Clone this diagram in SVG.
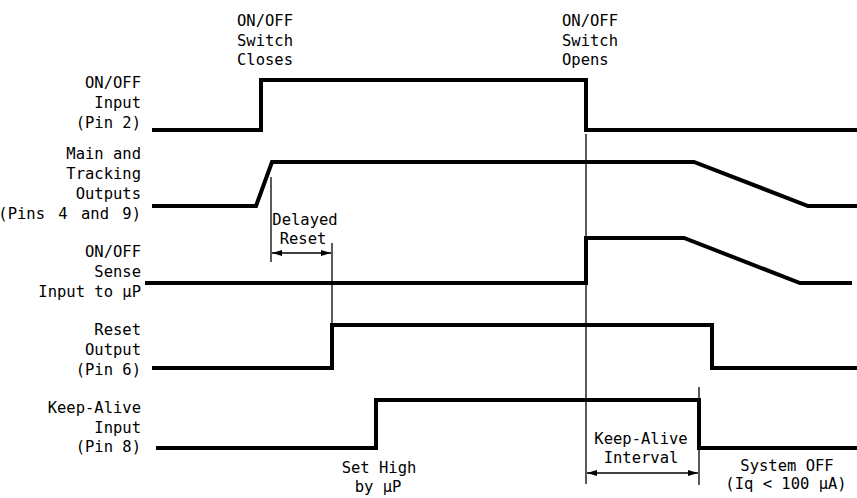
<svg xmlns="http://www.w3.org/2000/svg" width="857" height="498" viewBox="0 0 857 498">
<style>
text{font-family:"DejaVu Sans Mono","Liberation Mono",monospace;font-size:15.5px;fill:#000}
.r{text-anchor:end}
.m{text-anchor:middle}
.sig{fill:none;stroke:#000;stroke-width:4;stroke-linejoin:miter}
.thin{fill:none;stroke:#000;stroke-width:1.3}
</style>
<defs>
<marker id="ah" viewBox="0 0 10 6" refX="10" refY="3" markerWidth="10" markerHeight="6" markerUnits="userSpaceOnUse" orient="auto-start-reverse">
<path d="M0,0 L10,3 L0,6 Z" fill="#000"/>
</marker>
</defs>
<g id="label-onoff-input">
<text class="r" x="141" y="88">ON/OFF</text>
<text class="r" x="141" y="108">Input</text>
<text class="r" x="141" y="128">(Pin 2)</text>
</g>
<g id="label-main-tracking">
<text class="r" x="141" y="159">Main and</text>
<text class="r" x="141" y="179">Tracking</text>
<text class="r" x="141" y="199">Outputs</text>
<text class="r" x="141" y="219" word-spacing="4">(Pins 4 and 9)</text>
</g>
<g id="label-sense">
<text class="r" x="141" y="257">ON/OFF</text>
<text class="r" x="141" y="277">Sense</text>
<text class="r" x="141" y="297">Input to μP</text>
</g>
<g id="label-reset">
<text class="r" x="141" y="335">Reset</text>
<text class="r" x="141" y="355">Output</text>
<text class="r" x="141" y="375">(Pin 6)</text>
</g>
<g id="label-keepalive">
<text class="r" x="141" y="413">Keep-Alive</text>
<text class="r" x="141" y="433">Input</text>
<text class="r" x="141" y="452">(Pin 8)</text>
</g>
<g id="note-closes">
<text x="237" y="26">ON/OFF</text>
<text x="237" y="46">Switch</text>
<text x="237" y="65">Closes</text>
</g>
<g id="note-opens">
<text x="562" y="26">ON/OFF</text>
<text x="562" y="46">Switch</text>
<text x="562" y="65">Opens</text>
</g>
<g id="note-delayed">
<text class="m" x="305" y="225">Delayed</text>
<text class="m" x="303" y="244">Reset</text>
</g>
<g id="note-sethigh">
<text class="m" x="379" y="473">Set High</text>
<text class="m" x="378" y="492">by μP</text>
</g>
<g id="note-interval">
<text class="m" x="641" y="444">Keep-Alive</text>
<text class="m" x="641" y="463">Interval</text>
</g>
<g id="note-off">
<text class="m" x="787" y="471">System OFF</text>
<text class="m" x="786" y="489">(Iq &lt; 100 μA)</text>
</g>
<g id="signals">
<path class="sig" d="M152,130 H261 V80 H586 V130 H857"/>
<path class="sig" d="M152,206 H256 L272,162 H694 L808,206 H857"/>
<path class="sig" d="M145,283 H586 V238 H684 L800,283 H852"/>
<path class="sig" d="M152,368 H332 V325 H712 V368 H857"/>
<path class="sig" d="M156,448 H376 V400 H699 V448 H857"/>
</g>
<g id="connectors">
<line class="thin" x1="586" y1="134" x2="586" y2="484"/>
<line class="thin" x1="699" y1="387" x2="699" y2="485"/>
<line class="thin" x1="271" y1="177" x2="271" y2="262"/>
<line class="thin" x1="332" y1="243" x2="332" y2="325"/>
<line class="thin" x1="272" y1="253" x2="331" y2="253" marker-start="url(#ah)" marker-end="url(#ah)"/>
<line class="thin" x1="587" y1="473" x2="698" y2="473" marker-start="url(#ah)" marker-end="url(#ah)"/>
</g>
</svg>
